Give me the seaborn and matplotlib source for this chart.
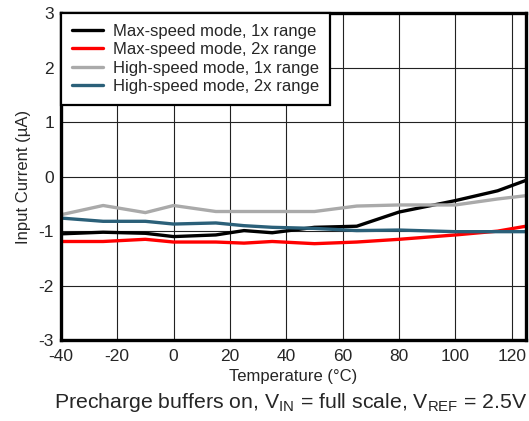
import pandas as pd
import seaborn as sns
import matplotlib.pyplot as plt

temps = [-40, -25, -10, 0, 15, 25, 35, 50, 65, 80, 100, 115, 125]
max_1x = [-1.05, -1.02, -1.04, -1.10, -1.07, -0.99, -1.03, -0.93, -0.91, -0.65, -0.44, -0.26, -0.07]
max_2x = [-1.19, -1.19, -1.15, -1.20, -1.20, -1.22, -1.19, -1.23, -1.20, -1.15, -1.07, -1.00, -0.91]
high_1x = [-0.70, -0.53, -0.66, -0.53, -0.64, -0.64, -0.64, -0.64, -0.54, -0.52, -0.52, -0.41, -0.35]
high_2x = [-0.76, -0.82, -0.82, -0.87, -0.85, -0.90, -0.93, -0.95, -0.99, -0.98, -1.01, -1.01, -1.01]

names = ["Max-speed mode, 1x range", "Max-speed mode, 2x range",
         "High-speed mode, 1x range", "High-speed mode, 2x range"]
colors = ["#000000", "#ff0000", "#aaaaaa", "#2b6079"]

rows = []
for name, vals in zip(names, [max_1x, max_2x, high_1x, high_2x]):
    for t, v in zip(temps, vals):
        rows.append({"Temperature": t, "Current": v, "Series": name})
df = pd.DataFrame(rows)

sns.set_style("white")
plt.rcParams['font.family'] = ['Liberation Sans', 'DejaVu Sans']
plt.rcParams['axes.unicode_minus'] = False

fig = plt.figure(figsize=(5.29, 4.21), dpi=100)
ax = fig.add_axes([0.115, 0.192, 0.879, 0.777])

sns.lineplot(data=df, x="Temperature", y="Current", hue="Series",
             palette=dict(zip(names, colors)), linewidth=2.4, ax=ax)

ax.set_xlim(-40, 125)
ax.set_ylim(-3, 3)
ax.set_xticks(range(-40, 121, 20))
ax.set_yticks(range(-3, 4))
ax.grid(True, color="#222222", linewidth=0.8)
ax.set_axisbelow(True)
for s in ax.spines.values():
    s.set_linewidth(2.4)
    s.set_color("black")
ax.tick_params(axis="both", length=0, labelsize=12.5)
ax.tick_params(axis="x", pad=6)
ax.tick_params(axis="y", pad=5)
ax.set_xlabel("Temperature (°C)", fontsize=12, labelpad=4)
ax.set_ylabel("Input Current (µA)", fontsize=12, labelpad=5)

leg = ax.legend(loc="upper left", fontsize=12, frameon=True, fancybox=False,
                borderaxespad=0, handlelength=1.85, labelspacing=0.2,
                borderpad=0.65, handletextpad=0.65)
leg.get_frame().set_edgecolor("black")
leg.get_frame().set_linewidth(1.6)
leg.get_frame().set_alpha(1)
for line in leg.get_lines():
    line.set_linewidth(2.4)

fig.text(0.55, 0.016,
         r"Precharge buffers on, V$_{\mathregular{IN}}$ = full scale, V$_{\mathregular{REF}}$ = 2.5V",
         ha="center", va="bottom", fontsize=15.3)

fig.savefig("out.png", dpi=100)
